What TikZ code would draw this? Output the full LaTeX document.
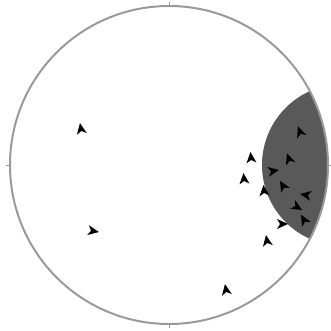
\documentclass[tikz,border=0pt]{standalone}
\usetikzlibrary{calc}

\begin{document}
\begin{tikzpicture}[
    x=0.03cm, y=0.03cm,
    primitive/.style={draw=black!40, line width=1.7pt},
    tick/.style={draw=black!40, line width=0.6pt},
    lens/.style={fill=black!65},
    lineation/.style={fill=black}
  ]
  \useasboundingbox (0,0) rectangle (331,331);
  \coordinate (O) at (169,166);

  % shaded small circle, clipped to the net
  \begin{scope}
    \clip (O) circle (159);
    \fill[lens] (342.9,166) circle (80.9);
  \end{scope}

  % primitive and ticks
  \draw[primitive] (O) circle (159);
  \draw[tick] ($(O)+(0,159)$) -- ++(0,4);
  \draw[tick] ($(O)+(0,-159)$) -- ++(0,-4);
  \draw[tick] ($(O)+(-159,0)$) -- ++(-4,0);
  \draw[tick] ($(O)+(159,0)$) -- ++(4,0);

  % lineations
  \foreach \x/\y/\a in {81/202/100, 93/100/-10, 226/41/100, 300/199/110,
                        289/172/110, 251/173/95, 273/160/10, 244/152/95,
                        283/145/120, 264/140/95, 306/136/170, 297/124/-30,
                        304/111/120, 282/107/0, 267/90/100} {
    \fill[lineation, shift={(\x,\y)}, rotate=\a]
      (6,0) -- (-5,5) -- (-2,0) -- (-5,-5) -- cycle;
  }
\end{tikzpicture}
\end{document}
